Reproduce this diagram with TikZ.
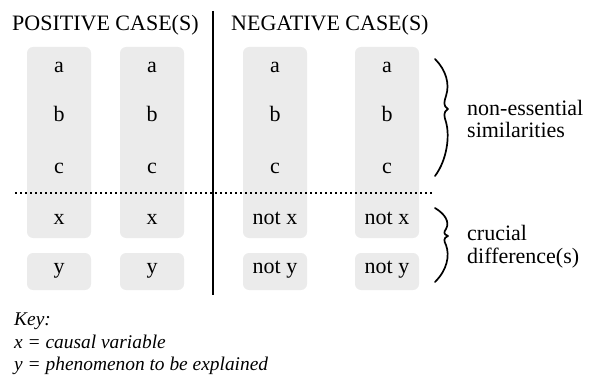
\documentclass[tikz,border=0pt]{standalone}
\usepackage{fontspec}
\setmainfont{Liberation Serif}
\definecolor{boxgray}{RGB}{235,235,235}
\begin{document}
\begin{tikzpicture}[x=1pt,y=-1pt,
  cellbox/.style={fill=boxgray, rounded corners=6pt},
  cell/.style={anchor=base, inner sep=0pt, font=\fontsize{22}{26}\selectfont},
  heading/.style={anchor=base west, inner sep=0pt, font=\fontsize{22}{26}\selectfont},
  label/.style={anchor=base west, inner sep=0pt, font=\fontsize{22}{26}\selectfont},
  keytext/.style={anchor=base west, inner sep=0pt, font=\fontsize{19.4}{22}\selectfont\itshape},
  divider/.style={line width=1.5pt},
  dotline/.style={line width=1.5pt, dash pattern=on 1.7pt off 3.3pt},
  bracestroke/.style={line width=1.7pt, line cap=round, line join=round}]
\useasboundingbox (0,0) rectangle (589,377);

% shaded columns: tall block for a, b, c, x and a short block for y
\foreach \xl in {27,120,243,355} {
  \fill[cellbox] (\xl,47) rectangle ++(64,191);
  \fill[cellbox] (\xl,253) rectangle ++(64,37);
}

% headings and the divider between them
\node[heading] (hpos) at (12,31) {POSITIVE CASE(S)};
\node[heading] (hneg) at (231,31) {NEGATIVE CASE(S)};
\coordinate (divtop) at (213,11);
\coordinate (divbot) at (213,295);
\draw[divider] (divtop) -- (divbot);

% column entries
\foreach \cx/\nm in {59/p1,152/p2} {
  \node[cell] (\nm a) at (\cx,73) {a};
  \node[cell] (\nm b) at (\cx,122) {b};
  \node[cell] (\nm c) at (\cx,174) {c};
  \node[cell] (\nm x) at (\cx,224) {x};
  \node[cell] (\nm y) at (\cx,273) {y};
}
\foreach \cx/\nm in {275/n1,387/n2} {
  \node[cell] (\nm a) at (\cx,73) {a};
  \node[cell] (\nm b) at (\cx,122) {b};
  \node[cell] (\nm c) at (\cx,174) {c};
  \node[cell] (\nm x) at (\cx,224) {not x};
  \node[cell] (\nm y) at (\cx,273) {not y};
}

% separation between shared and differing factors
\coordinate (dotl) at (15,193);
\coordinate (dotr) at (432,193);
\draw[dotline] (dotl) -- (dotr);

% braces
\draw[bracestroke] (435,59) .. controls (446,70) and (450,84) .. (446,96)
  .. controls (444,102) and (443,106) .. (448,109)
  .. controls (443,112) and (444,116) .. (446,122)
  .. controls (450,136) and (447,160) .. (435,176);
\draw[bracestroke] (435,208) .. controls (445,214) and (450,222) .. (446,229)
  .. controls (444,232) and (443,234) .. (448,236)
  .. controls (443,238) and (444,241) .. (446,245)
  .. controls (450,256) and (447,270) .. (435,282);

% brace labels
\node[label] (sim1) at (467,116) {non-essential};
\node[label] (sim2) at (467,138) {similarities};
\node[label] (dif1) at (467,240) {crucial};
\node[label] (dif2) at (467,263) {difference(s)};

% key
\node[keytext] (key0) at (14,325) {Key:};
\node[keytext] (key1) at (14,348) {x = causal variable};
\node[keytext] (key2) at (14,370) {y = phenomenon to be explained};
\end{tikzpicture}
\end{document}
